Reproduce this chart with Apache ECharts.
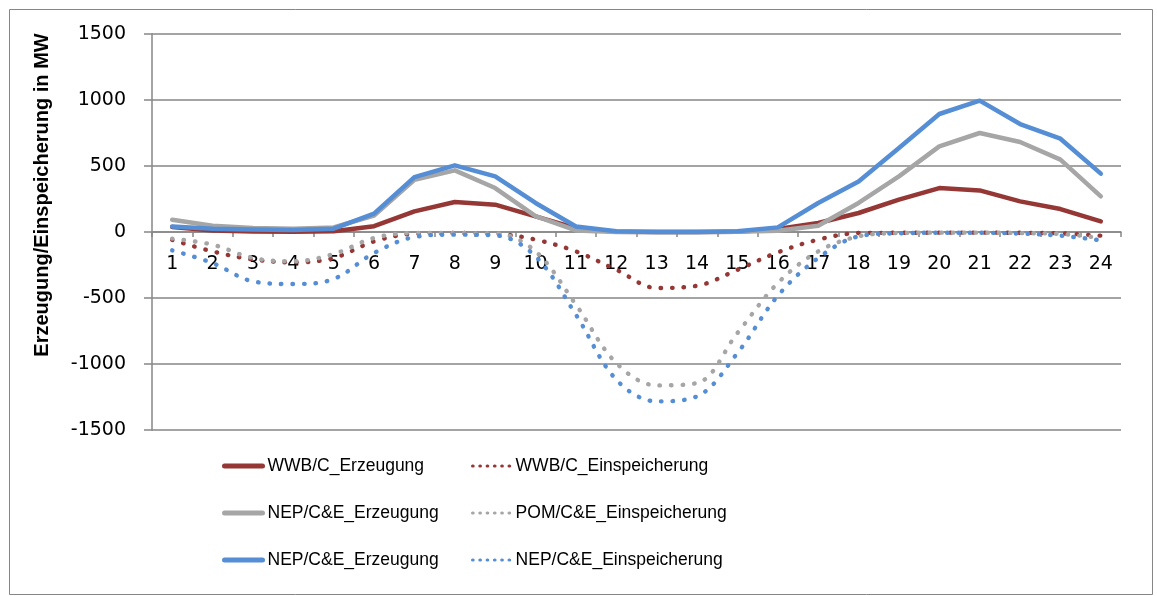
<!DOCTYPE html>
<html><head><meta charset="utf-8">
<script src="https://cdn.jsdelivr.net/npm/echarts@6/dist/echarts.min.js"></script>
<style>html,body{margin:0;padding:0;background:#fff}#c{width:1157px;height:596px}</style>
</head><body><div id="c"></div>
<script>
const categories = ['1','2','3','4','5','6','7','8','9','10','11','12','13','14','15','16','17','18','19','20','21','22','23','24'];
const wwbErz   = [38, 12, 3, 2, 5, 44, 156, 227, 207, 118, 30, 2, 0, 0, 2, 23, 68, 144, 245, 333, 315, 232, 174, 80];
const wwbEin   = [-60, -147, -208, -230, -197, -71, -13, -8, -13, -58, -147, -286, -424, -407, -286, -154, -58, -8, -6, -5, -5, -6, -10, -28];
const nepGrErz = [93, 48, 30, 25, 35, 125, 396, 467, 333, 120, 12, 0, 0, 0, 2, 10, 48, 220, 421, 649, 750, 682, 548, 270];
const pomEin   = [-50, -96, -197, -222, -167, -45, -8, -8, -10, -147, -551, -993, -1162, -1144, -765, -387, -147, -33, -8, -5, -5, -8, -15, -45];
const nepBlErz = [42, 25, 18, 15, 25, 139, 416, 505, 421, 220, 42, 5, 0, 0, 5, 35, 220, 383, 636, 894, 995, 818, 707, 442];
const nepEin   = [-139, -235, -374, -394, -356, -159, -38, -20, -25, -185, -627, -1119, -1283, -1245, -917, -483, -197, -33, -10, -6, -6, -12, -28, -63];
const yTicks = [-1500, -1000, -500, 0, 500, 1000, 1500];
const yTitle = 'Erzeugung/Einspeicherung in MW';
const leftLegend = ['WWB/C_Erzeugung', 'NEP/C&E_Erzeugung ', 'NEP/C&E_Erzeugung'];
const rightLegend = ['WWB/C_Einspeicherung', 'POM/C&E_Einspeicherung', 'NEP/C&E_Einspeicherung'];

const RED = '#953735', GRAY = '#a6a6a6', BLUE = '#558ed5', AX = '#868686';
const chart = echarts.init(document.getElementById('c'), null, {renderer: 'canvas'});
const solid = (name, data, color) => ({name, type: 'line', data, symbol: 'none', smooth: false,
  lineStyle: {color, width: 4.5, cap: 'round', join: 'round'}, itemStyle: {color}});
const dotted = (name, data, color) => ({name, type: 'line', data, symbol: 'none', smooth: 0.35,
  lineStyle: {color, width: 4.4, type: [0.5, 11], cap: 'round'}, itemStyle: {color}});
const legText = {fontFamily: 'Liberation Sans', fontSize: 17.5, color: '#000', lineHeight: 20};
const legItem = (name, isDotted) => ({name, itemStyle: {opacity: 0},
  lineStyle: isDotted ? {width: 3.2, type: [0.5, 6.8], cap: 'round'} : {width: 5, type: 'solid', cap: 'round'}});
chart.setOption({
  animation: false,
  backgroundColor: '#fff',
  grid: {left: 152, right: 36, top: 34, bottom: 166},
  xAxis: {type: 'category', data: categories, boundaryGap: true,
    axisLine: {onZero: true, lineStyle: {color: AX, width: 1.5}},
    axisTick: {show: true, length: 5, lineStyle: {color: AX, width: 1.5}},
    axisLabel: {margin: -175, fontFamily: 'DejaVu Sans', fontSize: 19, color: '#000'}},
  yAxis: {type: 'value', min: -1500, max: 1500, interval: 500,
    axisLine: {show: true, lineStyle: {color: AX, width: 1.5}},
    axisTick: {show: true, length: 8, lineStyle: {color: AX, width: 1.5}},
    splitLine: {lineStyle: {color: AX, width: 1.5}},
    axisLabel: {margin: 26, fontFamily: 'DejaVu Sans', fontSize: 19, color: '#000',
      formatter: v => yTicks.includes(v) ? String(v) : ''}},
  legend: [
    {orient: 'vertical', left: 217, top: 451, itemWidth: 38, itemHeight: 14, itemGap: 27,
     data: leftLegend.map(n => legItem(n, false)), textStyle: legText},
    {orient: 'vertical', left: 466, top: 451, itemWidth: 38, itemHeight: 14, itemGap: 27,
     data: rightLegend.map(n => legItem(n, true)), textStyle: legText}
  ],
  graphic: [
    {type: 'rect', left: 7, top: 7, shape: {width: 1143, height: 585}, silent: true,
     style: {fill: 'none', stroke: AX, lineWidth: 1}},
    {type: 'text', x: 42, y: 195, rotation: Math.PI / 2,
     style: {text: yTitle, fontFamily: 'Liberation Sans', fontWeight: 'bold', fontSize: 20, fill: '#000',
       align: 'center', verticalAlign: 'middle'}}
  ],
  series: [
    solid(leftLegend[0], wwbErz, RED),
    dotted(rightLegend[0], wwbEin, RED),
    solid(leftLegend[1], nepGrErz, GRAY),
    dotted(rightLegend[1], pomEin, GRAY),
    solid(leftLegend[2], nepBlErz, BLUE),
    dotted(rightLegend[2], nepEin, BLUE)
  ]
});
</script></body></html>
